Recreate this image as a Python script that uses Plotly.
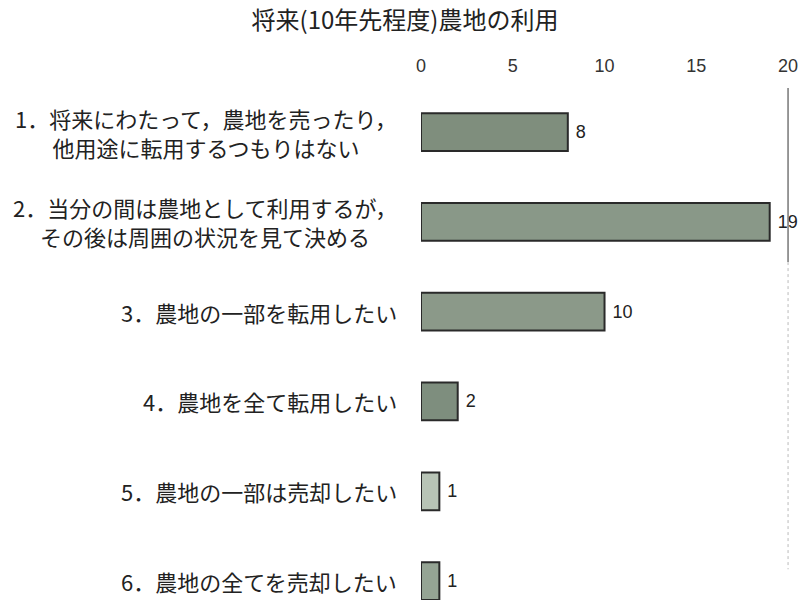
import plotly.graph_objects as go

labels = [
    "1．将来にわたって，農地を売ったり，<br>他用途に転用するつもりはない",
    "2．当分の間は農地として利用するが，<br>その後は周囲の状況を見て決める",
    "3．農地の一部を転用したい",
    "4．農地を全て転用したい",
    "5．農地の一部は売却したい",
    "6．農地の全てを売却したい",
]
counts = [8, 19, 10, 2, 1, 1]
bar_colors = ["#7f8e7d", "#899888", "#8b9989", "#7e8e7e", "#b8c4b6", "#95a494"]
xticks = [0, 5, 10, 15, 20]

jp = "Noto Sans CJK JP"
num = "Liberation Sans"

fig = go.Figure(go.Bar(
    x=counts, y=list(range(len(counts))), orientation="h",
    marker=dict(color=bar_colors, line=dict(color="#2a2a2a", width=2)),
    width=0.42,
    text=counts, texttemplate=" %{x}", textposition="outside", cliponaxis=False,
    textfont=dict(family=num, size=18, color="#222"),
))

# category labels, lines centred on each other, right-aligned against the bars
for i, lab in enumerate(labels):
    fig.add_annotation(x=0, xref="paper", y=i, yref="y", text=lab,
                       xanchor="right", xshift=-22, align="center",
                       showarrow=False,
                       font=dict(family=jp, size=22, color="#222"))

# right-hand border line at 20 (solid at top, faint below)
fig.add_shape(type="line", x0=20, x1=20, xref="x", y0=1, y1=0.66, yref="paper",
              line=dict(color="#777", width=1.5))
fig.add_shape(type="line", x0=20, x1=20, xref="x", y0=0.66, y1=0.06, yref="paper",
              line=dict(color="#bbb", width=1, dash="dot"))

fig.update_layout(
    width=794, height=592,
    margin=dict(l=413, r=0, t=80, b=0),
    paper_bgcolor="white", plot_bgcolor="white",
    title=dict(text="将来(10年先程度)農地の利用", x=0.5, xanchor="center",
               y=0.978, yanchor="middle",
               font=dict(family=jp, size=24, color="#222")),
    xaxis=dict(range=[0, 20.76], side="top", tickvals=xticks,
               showgrid=False, zeroline=False, showline=False,
               ticks="outside", ticklen=8, tickcolor="rgba(0,0,0,0)",
               tickfont=dict(family=num, size=18, color="#333")),
    yaxis=dict(range=[5.21, -0.49], showticklabels=False, showgrid=False,
               zeroline=False, showline=False),
    showlegend=False,
)

fig.write_html("out.html")
